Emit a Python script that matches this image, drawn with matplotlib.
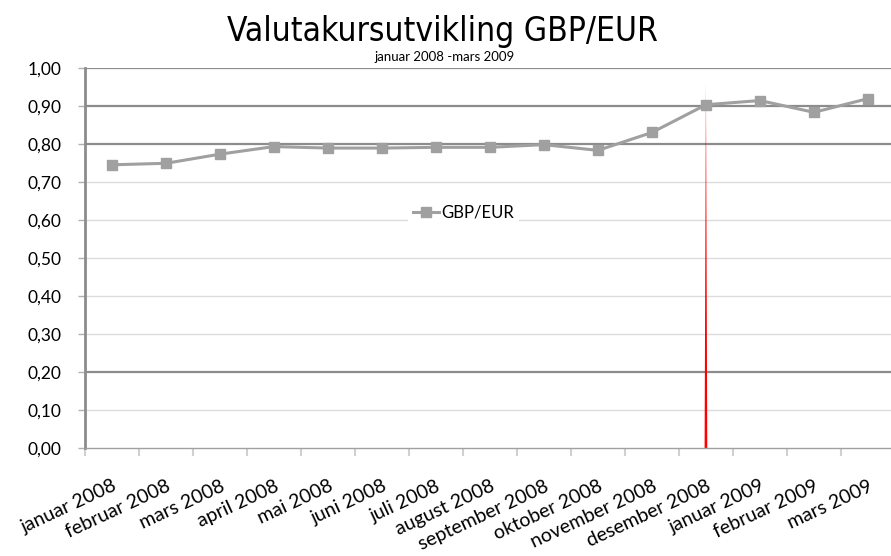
import matplotlib
matplotlib.use("Agg")
import matplotlib.pyplot as plt
import numpy as np

# monthly GBP/EUR rates, januar 2008 - mars 2009
months = ["januar 2008", "februar 2008", "mars 2008", "april 2008", "mai 2008",
          "juni 2008", "juli 2008", "august 2008", "september 2008", "oktober 2008",
          "november 2008", "desember 2008", "januar 2009", "februar 2009", "mars 2009"]
rates = [0.745, 0.749, 0.773, 0.793, 0.789, 0.789, 0.791, 0.791, 0.798, 0.783,
         0.830, 0.903, 0.914, 0.883, 0.919]
yticks = [0.0, 0.1, 0.2, 0.3, 0.4, 0.5, 0.6, 0.7, 0.8, 0.9, 1.0]
strong_grid = [0.2, 0.8, 0.9, 1.0]
dark_xticks = [1, 8, 9, 11, 12, 13, 14]

# red marker line at desember 2008
marker_month = "desember 2008"
marker_top = 0.96

plt.rcParams['font.family'] = ['Lato', 'DejaVu Sans']

fig = plt.figure(figsize=(8.91, 5.56), dpi=100)
ax = fig.add_axes([0.0954, 0.194, 0.909, 0.684])

x = np.arange(len(months))
ax.plot(x, rates, color="#a0a0a0", lw=2.2, marker="s", ms=7,
        mec="#a0a0a0", mfc="#a0a0a0", label="GBP/EUR", zorder=3)

# grid lines, a few drawn darker
for v in yticks:
    if v == 0:
        continue
    if v in strong_grid:
        ax.axhline(v, color="#8c8c8c", lw=1.6, zorder=1)
    else:
        ax.axhline(v, color="#dcdcdc", lw=1.0, zorder=1)

# tapering red vertical line (thin wedge)
mx = months.index(marker_month)
half = 0.025
ax.fill([mx - half, mx + half, mx], [0, 0, marker_top], color="red",
        lw=0, zorder=2)

ax.set_xlim(-0.5, len(months) - 0.5)
ax.set_ylim(0, 1.0)

ax.set_yticks(yticks)
ax.set_yticklabels([f"{v:.2f}".replace(".", ",") for v in yticks], fontsize=12.5)
ax.tick_params(axis="y", length=5, width=1, color="#b0b0b0", pad=12)

ax.set_xticks(np.arange(-0.5, len(months), 1.0))
ax.set_xticklabels([])
ax.set_xticks(x, minor=True)
ax.set_xticklabels(months, minor=True, rotation=25, ha="right",
                   rotation_mode="anchor", fontsize=14)
ax.tick_params(axis="x", which="minor", length=0, pad=21)
ax.tick_params(axis="x", which="major", length=6, width=1.5, color="#d0d0d0")
for i, t in enumerate(ax.xaxis.get_major_ticks()):
    if i in dark_xticks:
        t.tick1line.set_color("#8c8c8c")

for s in ["top", "right"]:
    ax.spines[s].set_visible(False)
ax.spines["left"].set_color("#8c8c8c")
ax.spines["left"].set_linewidth(2)
ax.spines["bottom"].set_color("#a0a0a0")
ax.spines["bottom"].set_linewidth(1)

leg = ax.legend(loc="center", bbox_to_anchor=(0.467, 0.62), fontsize=12,
                frameon=True, handlelength=1.6, handletextpad=0.1,
                borderpad=0.3, fancybox=False)
leg.get_frame().set_facecolor("white")
leg.get_frame().set_edgecolor("none")
leg.get_frame().set_alpha(1)

fig.text(0.497, 0.943, "Valutakursutvikling GBP/EUR", ha="center", va="center",
         fontsize=24, family=["DejaVu Sans"], stretch="condensed")
fig.text(0.499, 0.897, "januar 2008 -mars 2009", ha="center", va="center",
         fontsize=9.5)

fig.savefig("out.png", dpi=100)
